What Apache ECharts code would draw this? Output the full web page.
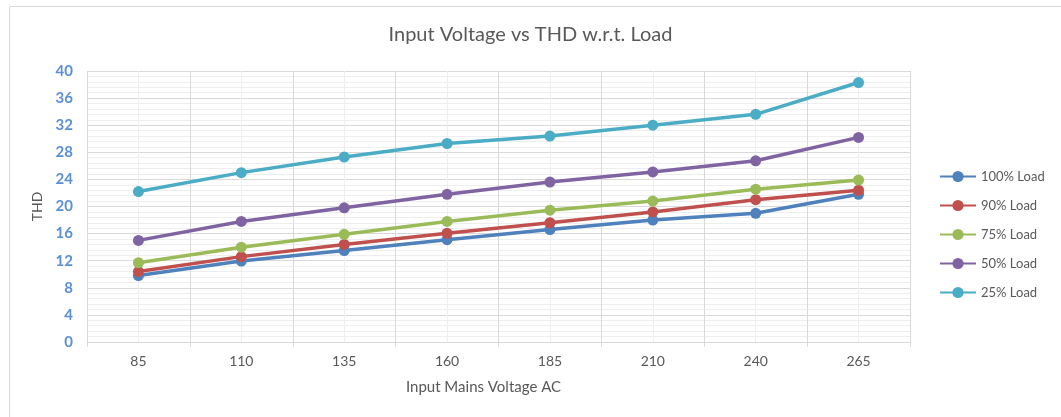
<!DOCTYPE html>
<html>
<head>
<meta charset="utf-8">
<script src="https://cdn.jsdelivr.net/npm/echarts@6/dist/echarts.min.js"></script>
<style>
  html, body { margin: 0; padding: 0; background: #fff; }
  #chart { width: 1061px; height: 417px; }
</style>
</head>
<body>
<div id="chart"></div>
<script>
const voltages = ['85', '110', '135', '160', '185', '210', '240', '265']
const yTicks = [0, 4, 8, 12, 16, 20, 24, 28, 32, 36, 40]

const load100 = [9.8, 11.95, 13.5, 15.1, 16.6, 18.0, 19.0, 21.8]
const load90 = [10.4, 12.6, 14.4, 16.05, 17.6, 19.2, 21.0, 22.4]
const load75 = [11.7, 14.0, 15.9, 17.8, 19.45, 20.8, 22.55, 23.9]
const load50 = [15.0, 17.8, 19.8, 21.8, 23.6, 25.1, 26.75, 30.2]
const load25 = [22.2, 25.0, 27.3, 29.3, 30.4, 32.0, 33.6, 38.3]

const SERIES = [
  { name: '100% Load', data: load100, color: '#4F81BD' },
  { name: '90% Load', data: load90, color: '#C0504D' },
  { name: '75% Load', data: load75, color: '#9BBB59' },
  { name: '50% Load', data: load50, color: '#8064A2' },
  { name: '25% Load', data: load25, color: '#4BACC6' }
]

const FONT = 'Lato, "Open Sans", sans-serif'
const GRAY = '#595959'

const chart = echarts.init(document.getElementById('chart'))

const option = {
  animation: false,
  textStyle: { fontFamily: FONT },
  title: {
    text: 'Input Voltage vs THD w.r.t. Load',
    left: 'center',
    top: 20,
    textStyle: { color: GRAY, fontSize: 20, fontWeight: 'normal', fontFamily: FONT }
  },
  graphic: [{
    type: 'rect',
    left: 7,
    top: 4,
    shape: { width: 1070, height: 430 },
    style: { fill: 'none', stroke: '#d9d9d9', lineWidth: 1 },
    silent: true,
    z: -10
  }],
  legend: {
    orient: 'vertical',
    left: 934,
    top: 165,
    itemGap: 16,
    itemWidth: 36,
    itemHeight: 14,
    textStyle: { color: GRAY, fontSize: 13, fontFamily: FONT },
    data: SERIES.map(s => s.name)
  },
  grid: { left: 87, right: 151, top: 71, bottom: 75 },
  xAxis: [
    {
      type: 'category',
      data: voltages,
      boundaryGap: true,
      axisLine: { lineStyle: { color: '#d9d9d9' } },
      axisTick: { show: true, length: 5, lineStyle: { color: '#d9d9d9' } },
      axisLabel: { color: GRAY, fontSize: 14, margin: 12, fontFamily: FONT },
      splitLine: { show: true, lineStyle: { color: '#d9d9d9' } },
      name: 'Input Mains Voltage AC',
      nameLocation: 'middle',
      nameGap: 38,
      nameTextStyle: { color: GRAY, fontSize: 15, fontFamily: FONT, padding: [0, 30, 0, 0] },
      z: 1
    },
    {
      type: 'value',
      min: 0,
      max: 16,
      interval: 1,
      show: true,
      position: 'bottom',
      axisLine: { show: false },
      axisTick: { show: false },
      axisLabel: { show: false },
      splitLine: { show: true, lineStyle: { color: '#eeeeee' } },
      z: 0
    }
  ],
  yAxis: {
    type: 'value',
    min: 0,
    max: 40,
    interval: 4,
    name: 'THD',
    nameLocation: 'middle',
    nameGap: 40,
    nameTextStyle: { color: GRAY, fontSize: 14, fontFamily: FONT },
    axisLine: { show: false },
    axisTick: { show: false },
    axisLabel: {
      color: '#5B8FD6',
      fontSize: 15,
      fontWeight: 'bold',
      margin: 14,
      fontFamily: FONT,
      formatter: v => (yTicks.includes(v) ? String(v) : '')
    },
    splitLine: { show: true, lineStyle: { color: '#d9d9d9' } },
    minorTick: { show: false, splitNumber: 5 },
    minorSplitLine: { show: true, lineStyle: { color: '#eeeeee' } }
  },
  series: SERIES.map(s => ({
    name: s.name,
    type: 'line',
    xAxisIndex: 0,
    data: s.data,
    symbol: 'circle',
    symbolSize: 11,
    lineStyle: { width: 3.5, color: s.color },
    itemStyle: { color: s.color },
    z: 5
  }))
}

chart.setOption(option)
</script>
</body>
</html>
